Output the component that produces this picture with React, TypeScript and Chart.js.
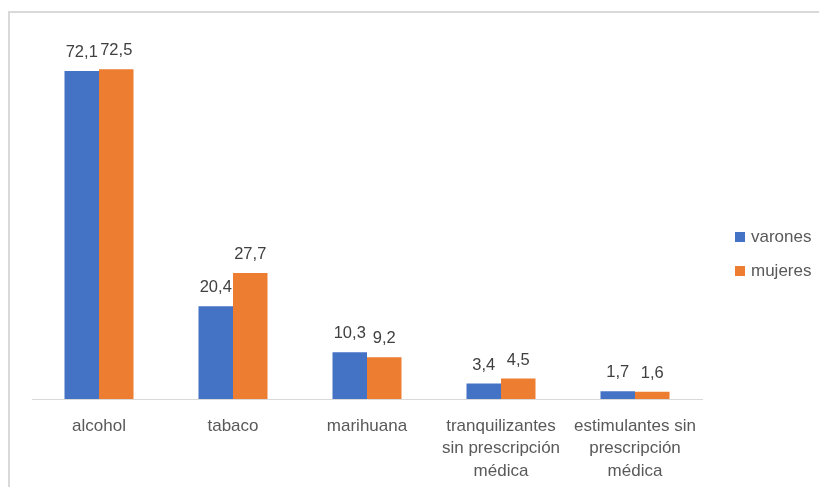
import React, { useEffect, useRef } from "react";
import { Chart, registerables } from "chart.js";

Chart.register(...registerables);

const categories: (string | string[])[] = [
  "alcohol",
  "tabaco",
  "marihuana",
  ["tranquilizantes", "sin prescripción", "médica"],
  ["estimulantes sin", "prescripción", "médica"],
];
const varones = [72.1, 20.4, 10.3, 3.4, 1.7];
const mujeres = [72.5, 27.7, 9.2, 4.5, 1.6];
const seriesNames = ["varones", "mujeres"];
const seriesColors = ["#4472C4", "#ED7D31"];

const FONT = "'Liberation Sans', Arial, sans-serif";

const valueLabels = {
  id: "valueLabels",
  afterDatasetsDraw(chart: any) {
    const ctx = chart.ctx;
    ctx.save();
    ctx.fillStyle = "#404040";
    ctx.font = `16.5px ${FONT}`;
    ctx.textAlign = "center";
    ctx.textBaseline = "alphabetic";
    chart.data.datasets.forEach((ds: any, i: number) => {
      const meta = chart.getDatasetMeta(i);
      meta.data.forEach((bar: any, j: number) => {
        const v = ds.data[j] as number;
        ctx.fillText(v.toFixed(1).replace(".", ","), bar.x, bar.y - 14);
      });
    });
    ctx.restore();
  },
};

const sideLegend = {
  id: "sideLegend",
  afterDraw(chart: any) {
    const ctx = chart.ctx;
    const x = chart.chartArea.right + 33;
    const yStart = chart.height / 2 + 4 - 17;
    ctx.save();
    ctx.font = `17px ${FONT}`;
    ctx.textBaseline = "middle";
    ctx.textAlign = "left";
    chart.data.datasets.forEach((ds: any, i: number) => {
      const y = yStart + i * 34;
      ctx.fillStyle = ds.backgroundColor;
      ctx.fillRect(x, y - 5, 10, 10);
      ctx.fillStyle = "#595959";
      ctx.fillText(ds.label, x + 16, y);
    });
    ctx.restore();
  },
};

export default function App() {
  const ref = useRef<HTMLCanvasElement>(null);
  useEffect(() => {
    document.documentElement.style.overflow = "hidden";
    const chart = new Chart(ref.current!, {
      type: "bar",
      data: {
        labels: categories,
        datasets: [
          {
            label: seriesNames[0],
            data: varones,
            backgroundColor: seriesColors[0],
            categoryPercentage: 0.515,
            barPercentage: 1,
          },
          {
            label: seriesNames[1],
            data: mujeres,
            backgroundColor: seriesColors[1],
            categoryPercentage: 0.515,
            barPercentage: 1,
          },
        ],
      },
      options: {
        animation: false,
        responsive: true,
        maintainAspectRatio: false,
        layout: { padding: { left: 22, right: 125, top: 22, bottom: 8 } },
        plugins: { legend: { display: false }, tooltip: { enabled: false } },
        scales: {
          y: { display: false, min: 0, max: 80 },
          x: {
            grid: { display: false, drawTicks: false },
            border: { display: true, color: "#d9d9d9", width: 1 },
            ticks: {
              color: "#595959",
              padding: 16,
              maxRotation: 0,
              autoSkip: false,
              font: { family: FONT, size: 17, lineHeight: 1.32 },
            },
            afterFit: (scale: any) => {
              scale.height = 80;
            },
          },
        },
      },
      plugins: [valueLabels, sideLegend],
    });
    return () => chart.destroy();
  }, []);
  return (
    <div
      style={{
        marginTop: 3,
        width: 819,
        height: 476,
        borderLeft: "2px solid #d9d9d9",
        borderTop: "2px solid #d9d9d9",
        boxSizing: "border-box",
        background: "#fff",
      }}
    >
      <div style={{ position: "relative", width: 817, height: 474 }}>
        <canvas ref={ref} />
      </div>
    </div>
  );
}
